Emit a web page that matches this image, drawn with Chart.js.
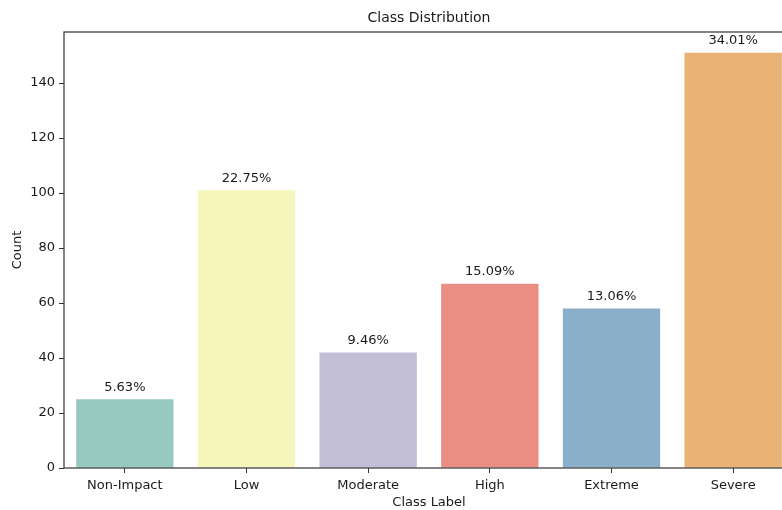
<!DOCTYPE html>
<html>
<head>
<meta charset="utf-8">
<script src="https://cdn.jsdelivr.net/npm/chart.js@4"></script>
<style>
  html, body { margin: 0; padding: 0; background: #fff; overflow: hidden; }
  #wrap { position: relative; width: 796px; height: 510px; }
</style>
</head>
<body>
<div id="wrap"><canvas id="classChart"></canvas></div>
<script>
// Class counts and bar colours
var classLabels = ['Non-Impact', 'Low', 'Moderate', 'High', 'Extreme', 'Severe'];
var classCounts = [25, 101, 42, 67, 58, 151];
var barColors = ['#96cac1', '#f6f6bc', '#c1bed6', '#ea8e83', '#8aafc9', '#eab375'];
var yTicks = [0, 20, 40, 60, 80, 100, 120, 140];

var total = classCounts.reduce(function(a, b) { return a + b; }, 0);
var textColor = '#1a1a1a';
var fontFamily = '"DejaVu Sans", sans-serif';

// Frame around plot, title over plot area, percentage labels above bars
var decorPlugin = {
  id: 'decor',
  afterDatasetsDraw: function(chart) {
    var ctx = chart.ctx;
    var area = chart.chartArea;
    ctx.save();
    ctx.strokeStyle = '#333';
    ctx.lineWidth = 1.2;
    ctx.strokeRect(area.left, area.top, area.right - area.left, area.bottom - area.top);

    ctx.fillStyle = textColor;
    ctx.font = '14px ' + fontFamily;
    ctx.textAlign = 'center';
    ctx.textBaseline = 'middle';
    ctx.fillText('Class Distribution', (area.left + area.right) / 2, 18);

    ctx.font = '13px ' + fontFamily;
    var meta = chart.getDatasetMeta(0);
    meta.data.forEach(function(bar, i) {
      var pct = (classCounts[i] / total * 100).toFixed(2) + '%';
      ctx.fillText(pct, bar.x, bar.y - 12);
    });
    ctx.restore();
  }
};

new Chart(document.getElementById('classChart'), {
  type: 'bar',
  data: {
    labels: classLabels,
    datasets: [{
      data: classCounts,
      backgroundColor: barColors,
      borderWidth: 0,
      categoryPercentage: 1.0,
      barPercentage: 0.8
    }]
  },
  options: {
    responsive: true,
    maintainAspectRatio: false,
    animation: false,
    layout: { padding: { top: 32, right: 2, left: 0, bottom: 0 } },
    plugins: {
      legend: { display: false },
      tooltip: { enabled: false },
      title: { display: false }
    },
    scales: {
      x: {
        offset: true,
        grid: { display: true, drawOnChartArea: false, offset: false, tickLength: 5, color: '#333', tickColor: '#333' },
        border: { display: false },
        ticks: { color: textColor, font: { size: 13, family: fontFamily }, padding: 5, maxRotation: 0 },
        title: { display: true, text: 'Class Label', color: textColor, font: { size: 13, family: fontFamily }, padding: { top: 0, bottom: 0 } },
        afterFit: function(scale) { scale.height = 42; }
      },
      y: {
        min: 0,
        max: 158.55,
        grid: { display: true, drawOnChartArea: false, tickLength: 5, color: '#333', tickColor: '#333' },
        border: { display: false },
        afterBuildTicks: function(scale) {
          scale.ticks = yTicks.map(function(v) { return { value: v }; });
        },
        ticks: { color: textColor, font: { size: 13, family: fontFamily }, padding: 4 },
        title: { display: true, text: 'Count', color: textColor, font: { size: 13, family: fontFamily }, padding: { top: 10, bottom: 8 } },
        afterFit: function(scale) { scale.width = 64; }
      }
    }
  },
  plugins: [decorPlugin]
});
</script>
</body>
</html>
